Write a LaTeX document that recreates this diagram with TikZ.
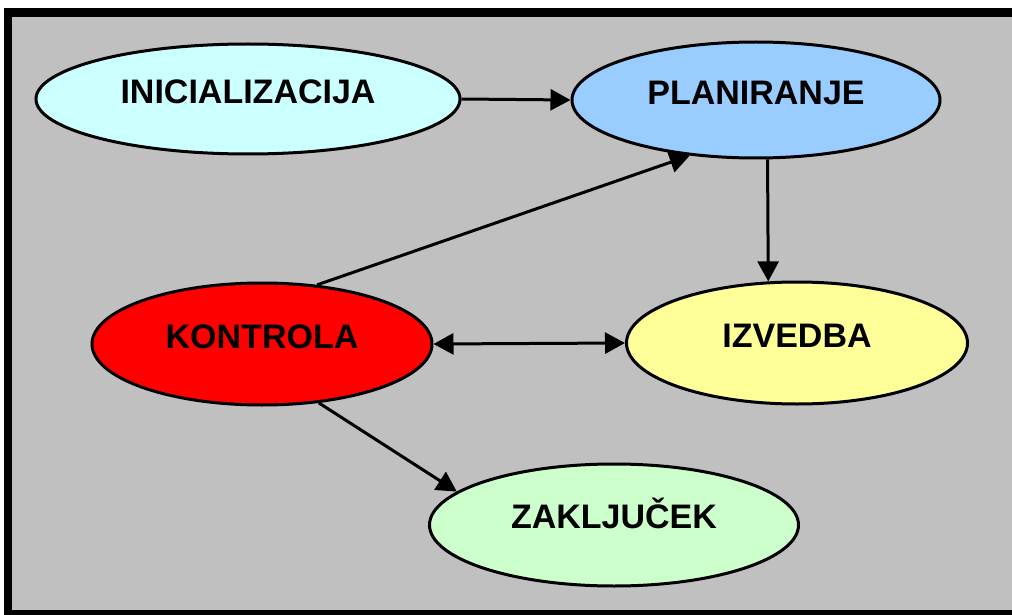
\documentclass[tikz,border=0pt]{standalone}
\usepackage{fontspec}
\setmainfont{Liberation Sans}
\usetikzlibrary{arrows.meta,shapes.geometric}

\definecolor{panel}{HTML}{C0C0C0}
\definecolor{cInit}{HTML}{CCFFFF}
\definecolor{cPlan}{HTML}{99CCFF}
\definecolor{cCtrl}{HTML}{FF0000}
\definecolor{cExec}{HTML}{FFFF99}
\definecolor{cDone}{HTML}{CCFFCC}

\tikzset{
  bub/.style={ellipse, draw=black, line width=3pt, inner sep=0pt},
  lbl/.style={anchor=base, inner sep=0pt, font=\fontsize{34}{36}\selectfont\bfseries},
  flow/.style={line width=3pt, -{Triangle[length=20pt,width=21pt]}},
  both/.style={line width=3pt, {Triangle[length=20pt,width=21pt]}-{Triangle[length=20pt,width=21pt]}}
}

\begin{document}
\begin{tikzpicture}[x=1pt,y=-1pt]
  \useasboundingbox (0,0) rectangle (1012,615);
  % frame and grey panel
  \fill[white] (0,0) rectangle (1012,615);
  \fill[black] (4,8) rectangle (1012,615);
  \fill[panel] (12,17) rectangle (1012,610);

  % phases
  \node[bub, fill=cInit, minimum width=424pt, minimum height=110pt] (init) at (248,99) {};
  \node[bub, fill=cPlan, minimum width=368pt, minimum height=116pt] (plan) at (756,100) {};
  \node[bub, fill=cCtrl, minimum width=340pt, minimum height=122pt] (ctrl) at (262,344) {};
  \node[bub, fill=cExec, minimum width=341pt, minimum height=122pt] (exec) at (797,343) {};
  \node[bub, fill=cDone, minimum width=369pt, minimum height=122pt] (done) at (614,525) {};

  \node[lbl] (tinit) at ([yshift=-4.5pt]init.center) {INICIALIZACIJA};
  \node[lbl] (tplan) at ([yshift=-4.5pt]plan.center) {PLANIRANJE};
  \node[lbl] (tctrl) at ([yshift=-4.5pt]ctrl.center) {KONTROLA};
  \node[lbl] (texec) at ([yshift=-4.5pt]exec.center) {IZVEDBA};
  \node[lbl] (tdone) at ([yshift=-3.5pt]done.center) {ZAKLJUČEK};

  % transitions
  \draw[flow] (init.east) -- (plan.west);
  \draw[flow] (plan.281.7) -- (exec.115.8);
  \draw[flow] (ctrl.47) -- (plan.220);
  \draw[both] (ctrl.east) -- (exec.west);
  \draw[flow] (ctrl.314) -- (done.168);
\end{tikzpicture}
\end{document}
